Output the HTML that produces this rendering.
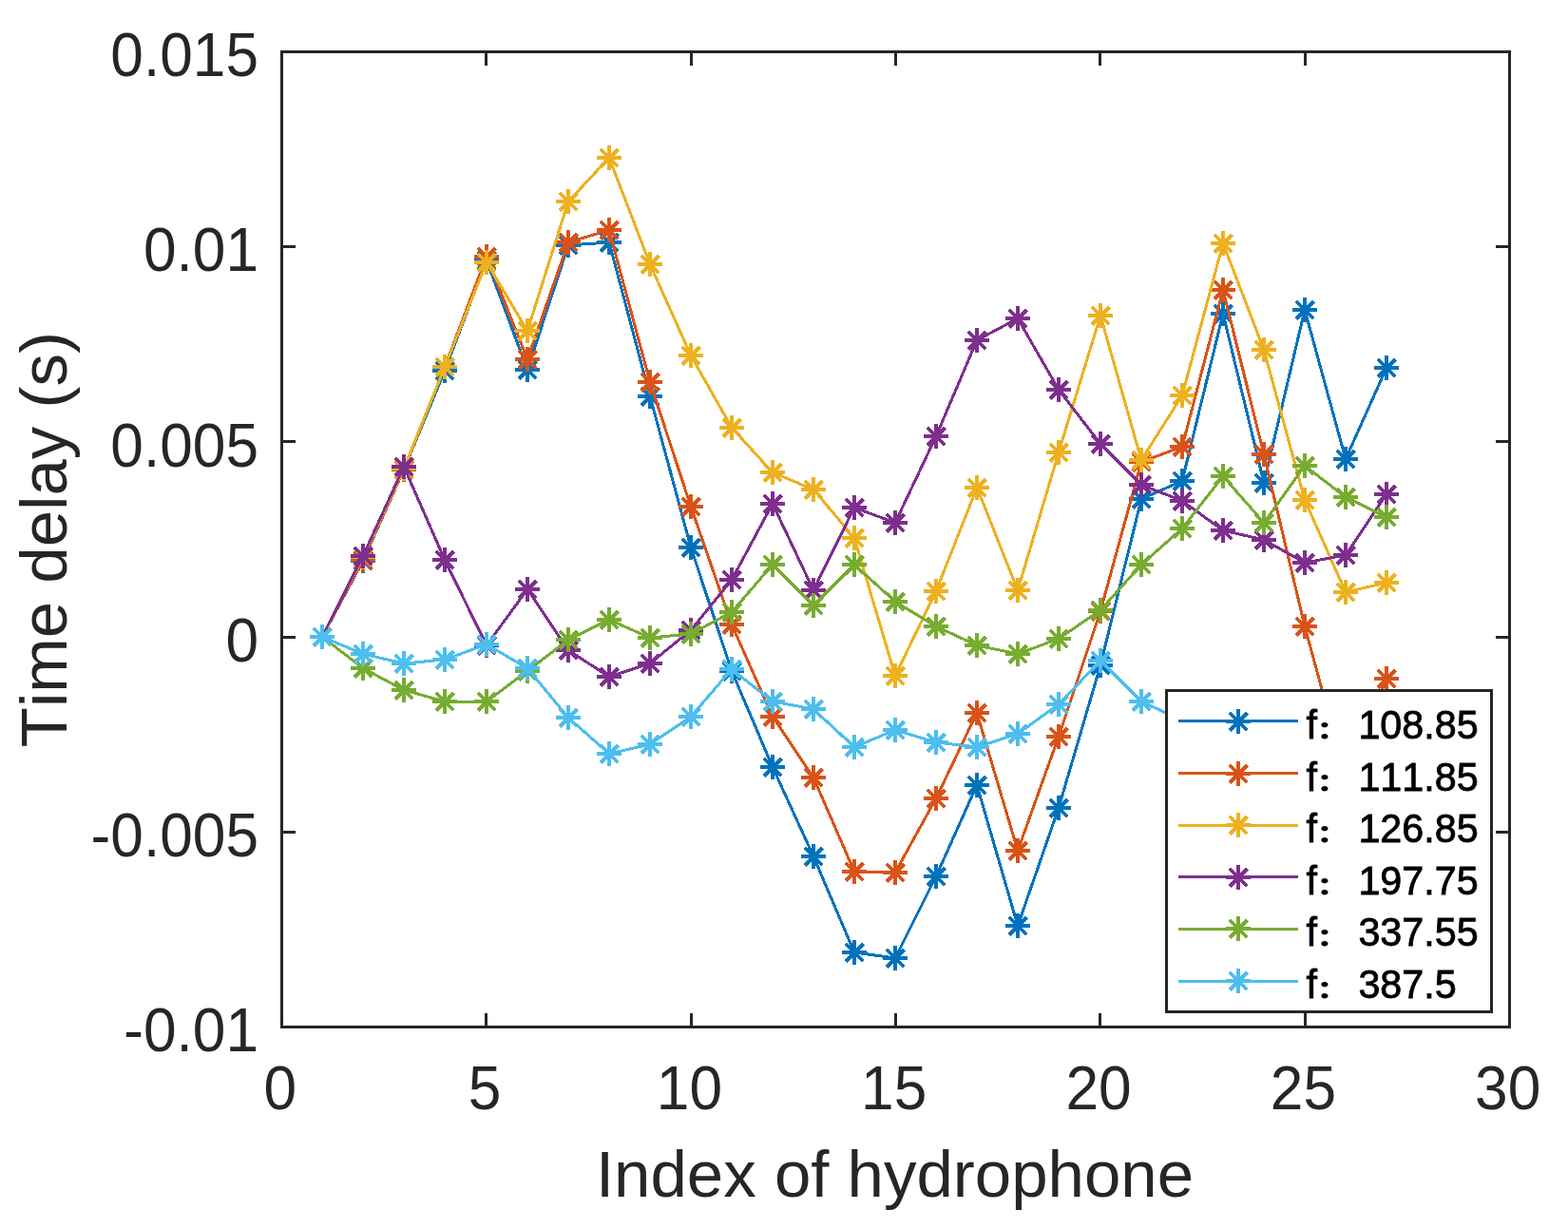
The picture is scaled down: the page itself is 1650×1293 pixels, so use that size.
<!DOCTYPE html><html><head><meta charset="utf-8"><title>Time delay</title><style>html,body{margin:0;padding:0;background:#fff;}svg{display:block;}text{font-kerning:none;}.t{font-family:"Liberation Sans",sans-serif;fill:#262626;}.lg{font-family:"Liberation Sans","Noto Sans CJK SC",sans-serif;fill:#000;stroke:#000;stroke-width:0.85px;}.cl{font-family:"Liberation Sans","Noto Sans CJK SC",sans-serif;font-weight:900;stroke-width:0;}</style></head><body>
<svg width="1650" height="1293" viewBox="0 0 1650 1293">
<rect width="1650" height="1293" fill="#fff"/>
<g fill="none" stroke-linejoin="miter" shape-rendering="crispEdges">
<path d="M339.0 670.0 L382.0 590.0 L425.0 494.0 L468.0 390.0 L512.0 274.0 L555.0 389.0 L598.0 258.0 L641.0 255.0 L684.0 417.0 L727.0 576.0 L770.0 706.0 L813.0 807.0 L856.0 901.0 L899.0 1002.0 L942.0 1008.0 L985.0 922.0 L1028.0 826.0 L1071.0 974.0 L1114.0 850.0 L1158.0 700.0 L1201.0 525.0 L1244.0 506.0 L1287.0 330.0 L1330.0 508.0 L1373.0 326.0 L1416.0 483.0 L1459.0 387.0" stroke="#0072BD" stroke-width="3.0"/>
<path d="M326.0 670.0H352.0M339.0 657.0V683.0M369.0 590.0H395.0M382.0 577.0V603.0M412.0 494.0H438.0M425.0 481.0V507.0M455.0 390.0H481.0M468.0 377.0V403.0M499.0 274.0H525.0M512.0 261.0V287.0M542.0 389.0H568.0M555.0 376.0V402.0M585.0 258.0H611.0M598.0 245.0V271.0M628.0 255.0H654.0M641.0 242.0V268.0M671.0 417.0H697.0M684.0 404.0V430.0M714.0 576.0H740.0M727.0 563.0V589.0M757.0 706.0H783.0M770.0 693.0V719.0M800.0 807.0H826.0M813.0 794.0V820.0M843.0 901.0H869.0M856.0 888.0V914.0M886.0 1002.0H912.0M899.0 989.0V1015.0M929.0 1008.0H955.0M942.0 995.0V1021.0M972.0 922.0H998.0M985.0 909.0V935.0M1015.0 826.0H1041.0M1028.0 813.0V839.0M1058.0 974.0H1084.0M1071.0 961.0V987.0M1101.0 850.0H1127.0M1114.0 837.0V863.0M1145.0 700.0H1171.0M1158.0 687.0V713.0M1188.0 525.0H1214.0M1201.0 512.0V538.0M1231.0 506.0H1257.0M1244.0 493.0V519.0M1274.0 330.0H1300.0M1287.0 317.0V343.0M1317.0 508.0H1343.0M1330.0 495.0V521.0M1360.0 326.0H1386.0M1373.0 313.0V339.0M1403.0 483.0H1429.0M1416.0 470.0V496.0M1446.0 387.0H1472.0M1459.0 374.0V400.0" stroke="#0072BD" stroke-width="4.0"/><path d="M329.90 660.90L348.50 679.50M329.90 679.50L348.50 660.90M372.90 580.90L391.50 599.50M372.90 599.50L391.50 580.90M415.90 484.90L434.50 503.50M415.90 503.50L434.50 484.90M458.90 380.90L477.50 399.50M458.90 399.50L477.50 380.90M502.90 264.90L521.50 283.50M502.90 283.50L521.50 264.90M545.90 379.90L564.50 398.50M545.90 398.50L564.50 379.90M588.90 248.90L607.50 267.50M588.90 267.50L607.50 248.90M631.90 245.90L650.50 264.50M631.90 264.50L650.50 245.90M674.90 407.90L693.50 426.50M674.90 426.50L693.50 407.90M717.90 566.90L736.50 585.50M717.90 585.50L736.50 566.90M760.90 696.90L779.50 715.50M760.90 715.50L779.50 696.90M803.90 797.90L822.50 816.50M803.90 816.50L822.50 797.90M846.90 891.90L865.50 910.50M846.90 910.50L865.50 891.90M889.90 992.90L908.50 1011.50M889.90 1011.50L908.50 992.90M932.90 998.90L951.50 1017.50M932.90 1017.50L951.50 998.90M975.90 912.90L994.50 931.50M975.90 931.50L994.50 912.90M1018.90 816.90L1037.50 835.50M1018.90 835.50L1037.50 816.90M1061.90 964.90L1080.50 983.50M1061.90 983.50L1080.50 964.90M1104.90 840.90L1123.50 859.50M1104.90 859.50L1123.50 840.90M1148.90 690.90L1167.50 709.50M1148.90 709.50L1167.50 690.90M1191.90 515.90L1210.50 534.50M1191.90 534.50L1210.50 515.90M1234.90 496.90L1253.50 515.50M1234.90 515.50L1253.50 496.90M1277.90 320.90L1296.50 339.50M1277.90 339.50L1296.50 320.90M1320.90 498.90L1339.50 517.50M1320.90 517.50L1339.50 498.90M1363.90 316.90L1382.50 335.50M1363.90 335.50L1382.50 316.90M1406.90 473.90L1425.50 492.50M1406.90 492.50L1425.50 473.90M1449.90 377.90L1468.50 396.50M1449.90 396.50L1468.50 377.90" stroke="#0072BD" stroke-width="4.0"/>
<path d="M339.0 670.0 L382.0 589.0 L425.0 494.0 L468.0 386.0 L512.0 270.0 L555.0 378.0 L598.0 255.0 L641.0 242.0 L684.0 402.0 L727.0 533.0 L770.0 657.0 L813.0 754.0 L856.0 818.0 L899.0 917.0 L942.0 918.0 L985.0 840.0 L1028.0 750.0 L1071.0 895.0 L1114.0 775.0 L1158.0 643.0 L1201.0 486.0 L1244.0 470.0 L1287.0 305.0 L1330.0 478.0 L1373.0 659.0 L1416.0 817.0 L1459.0 714.0" stroke="#D95319" stroke-width="3.0"/>
<path d="M326.0 670.0H352.0M339.0 657.0V683.0M369.0 589.0H395.0M382.0 576.0V602.0M412.0 494.0H438.0M425.0 481.0V507.0M455.0 386.0H481.0M468.0 373.0V399.0M499.0 270.0H525.0M512.0 257.0V283.0M542.0 378.0H568.0M555.0 365.0V391.0M585.0 255.0H611.0M598.0 242.0V268.0M628.0 242.0H654.0M641.0 229.0V255.0M671.0 402.0H697.0M684.0 389.0V415.0M714.0 533.0H740.0M727.0 520.0V546.0M757.0 657.0H783.0M770.0 644.0V670.0M800.0 754.0H826.0M813.0 741.0V767.0M843.0 818.0H869.0M856.0 805.0V831.0M886.0 917.0H912.0M899.0 904.0V930.0M929.0 918.0H955.0M942.0 905.0V931.0M972.0 840.0H998.0M985.0 827.0V853.0M1015.0 750.0H1041.0M1028.0 737.0V763.0M1058.0 895.0H1084.0M1071.0 882.0V908.0M1101.0 775.0H1127.0M1114.0 762.0V788.0M1145.0 643.0H1171.0M1158.0 630.0V656.0M1188.0 486.0H1214.0M1201.0 473.0V499.0M1231.0 470.0H1257.0M1244.0 457.0V483.0M1274.0 305.0H1300.0M1287.0 292.0V318.0M1317.0 478.0H1343.0M1330.0 465.0V491.0M1360.0 659.0H1386.0M1373.0 646.0V672.0M1403.0 817.0H1429.0M1416.0 804.0V830.0M1446.0 714.0H1472.0M1459.0 701.0V727.0" stroke="#D95319" stroke-width="4.0"/><path d="M329.90 660.90L348.50 679.50M329.90 679.50L348.50 660.90M372.90 579.90L391.50 598.50M372.90 598.50L391.50 579.90M415.90 484.90L434.50 503.50M415.90 503.50L434.50 484.90M458.90 376.90L477.50 395.50M458.90 395.50L477.50 376.90M502.90 260.90L521.50 279.50M502.90 279.50L521.50 260.90M545.90 368.90L564.50 387.50M545.90 387.50L564.50 368.90M588.90 245.90L607.50 264.50M588.90 264.50L607.50 245.90M631.90 232.90L650.50 251.50M631.90 251.50L650.50 232.90M674.90 392.90L693.50 411.50M674.90 411.50L693.50 392.90M717.90 523.90L736.50 542.50M717.90 542.50L736.50 523.90M760.90 647.90L779.50 666.50M760.90 666.50L779.50 647.90M803.90 744.90L822.50 763.50M803.90 763.50L822.50 744.90M846.90 808.90L865.50 827.50M846.90 827.50L865.50 808.90M889.90 907.90L908.50 926.50M889.90 926.50L908.50 907.90M932.90 908.90L951.50 927.50M932.90 927.50L951.50 908.90M975.90 830.90L994.50 849.50M975.90 849.50L994.50 830.90M1018.90 740.90L1037.50 759.50M1018.90 759.50L1037.50 740.90M1061.90 885.90L1080.50 904.50M1061.90 904.50L1080.50 885.90M1104.90 765.90L1123.50 784.50M1104.90 784.50L1123.50 765.90M1148.90 633.90L1167.50 652.50M1148.90 652.50L1167.50 633.90M1191.90 476.90L1210.50 495.50M1191.90 495.50L1210.50 476.90M1234.90 460.90L1253.50 479.50M1234.90 479.50L1253.50 460.90M1277.90 295.90L1296.50 314.50M1277.90 314.50L1296.50 295.90M1320.90 468.90L1339.50 487.50M1320.90 487.50L1339.50 468.90M1363.90 649.90L1382.50 668.50M1363.90 668.50L1382.50 649.90M1406.90 807.90L1425.50 826.50M1406.90 826.50L1425.50 807.90M1449.90 704.90L1468.50 723.50M1449.90 723.50L1468.50 704.90" stroke="#D95319" stroke-width="4.0"/>
<path d="M339.0 670.0 L382.0 586.0 L425.0 493.0 L468.0 386.0 L512.0 276.0 L555.0 348.0 L598.0 212.0 L641.0 166.0 L684.0 278.0 L727.0 374.0 L770.0 450.0 L813.0 497.0 L856.0 515.0 L899.0 566.0 L942.0 711.0 L985.0 622.0 L1028.0 513.0 L1071.0 621.0 L1114.0 476.0 L1158.0 332.0 L1201.0 484.0 L1244.0 416.0 L1287.0 256.0 L1330.0 368.0 L1373.0 526.0 L1416.0 623.0 L1459.0 613.0" stroke="#EDB120" stroke-width="3.0"/>
<path d="M326.0 670.0H352.0M339.0 657.0V683.0M369.0 586.0H395.0M382.0 573.0V599.0M412.0 493.0H438.0M425.0 480.0V506.0M455.0 386.0H481.0M468.0 373.0V399.0M499.0 276.0H525.0M512.0 263.0V289.0M542.0 348.0H568.0M555.0 335.0V361.0M585.0 212.0H611.0M598.0 199.0V225.0M628.0 166.0H654.0M641.0 153.0V179.0M671.0 278.0H697.0M684.0 265.0V291.0M714.0 374.0H740.0M727.0 361.0V387.0M757.0 450.0H783.0M770.0 437.0V463.0M800.0 497.0H826.0M813.0 484.0V510.0M843.0 515.0H869.0M856.0 502.0V528.0M886.0 566.0H912.0M899.0 553.0V579.0M929.0 711.0H955.0M942.0 698.0V724.0M972.0 622.0H998.0M985.0 609.0V635.0M1015.0 513.0H1041.0M1028.0 500.0V526.0M1058.0 621.0H1084.0M1071.0 608.0V634.0M1101.0 476.0H1127.0M1114.0 463.0V489.0M1145.0 332.0H1171.0M1158.0 319.0V345.0M1188.0 484.0H1214.0M1201.0 471.0V497.0M1231.0 416.0H1257.0M1244.0 403.0V429.0M1274.0 256.0H1300.0M1287.0 243.0V269.0M1317.0 368.0H1343.0M1330.0 355.0V381.0M1360.0 526.0H1386.0M1373.0 513.0V539.0M1403.0 623.0H1429.0M1416.0 610.0V636.0M1446.0 613.0H1472.0M1459.0 600.0V626.0" stroke="#EDB120" stroke-width="4.0"/><path d="M329.90 660.90L348.50 679.50M329.90 679.50L348.50 660.90M372.90 576.90L391.50 595.50M372.90 595.50L391.50 576.90M415.90 483.90L434.50 502.50M415.90 502.50L434.50 483.90M458.90 376.90L477.50 395.50M458.90 395.50L477.50 376.90M502.90 266.90L521.50 285.50M502.90 285.50L521.50 266.90M545.90 338.90L564.50 357.50M545.90 357.50L564.50 338.90M588.90 202.90L607.50 221.50M588.90 221.50L607.50 202.90M631.90 156.90L650.50 175.50M631.90 175.50L650.50 156.90M674.90 268.90L693.50 287.50M674.90 287.50L693.50 268.90M717.90 364.90L736.50 383.50M717.90 383.50L736.50 364.90M760.90 440.90L779.50 459.50M760.90 459.50L779.50 440.90M803.90 487.90L822.50 506.50M803.90 506.50L822.50 487.90M846.90 505.90L865.50 524.50M846.90 524.50L865.50 505.90M889.90 556.90L908.50 575.50M889.90 575.50L908.50 556.90M932.90 701.90L951.50 720.50M932.90 720.50L951.50 701.90M975.90 612.90L994.50 631.50M975.90 631.50L994.50 612.90M1018.90 503.90L1037.50 522.50M1018.90 522.50L1037.50 503.90M1061.90 611.90L1080.50 630.50M1061.90 630.50L1080.50 611.90M1104.90 466.90L1123.50 485.50M1104.90 485.50L1123.50 466.90M1148.90 322.90L1167.50 341.50M1148.90 341.50L1167.50 322.90M1191.90 474.90L1210.50 493.50M1191.90 493.50L1210.50 474.90M1234.90 406.90L1253.50 425.50M1234.90 425.50L1253.50 406.90M1277.90 246.90L1296.50 265.50M1277.90 265.50L1296.50 246.90M1320.90 358.90L1339.50 377.50M1320.90 377.50L1339.50 358.90M1363.90 516.90L1382.50 535.50M1363.90 535.50L1382.50 516.90M1406.90 613.90L1425.50 632.50M1406.90 632.50L1425.50 613.90M1449.90 603.90L1468.50 622.50M1449.90 622.50L1468.50 603.90" stroke="#EDB120" stroke-width="4.0"/>
<path d="M339.0 670.0 L382.0 585.0 L425.0 491.0 L468.0 589.0 L512.0 679.0 L555.0 620.0 L598.0 684.0 L641.0 712.0 L684.0 698.0 L727.0 663.0 L770.0 610.0 L813.0 530.0 L856.0 621.0 L899.0 534.0 L942.0 550.0 L985.0 459.0 L1028.0 358.0 L1071.0 335.0 L1114.0 410.0 L1158.0 467.0 L1201.0 510.0 L1244.0 527.0 L1287.0 558.0 L1330.0 568.0 L1373.0 592.0 L1416.0 584.0 L1459.0 520.0" stroke="#7E2F8E" stroke-width="3.0"/>
<path d="M326.0 670.0H352.0M339.0 657.0V683.0M369.0 585.0H395.0M382.0 572.0V598.0M412.0 491.0H438.0M425.0 478.0V504.0M455.0 589.0H481.0M468.0 576.0V602.0M499.0 679.0H525.0M512.0 666.0V692.0M542.0 620.0H568.0M555.0 607.0V633.0M585.0 684.0H611.0M598.0 671.0V697.0M628.0 712.0H654.0M641.0 699.0V725.0M671.0 698.0H697.0M684.0 685.0V711.0M714.0 663.0H740.0M727.0 650.0V676.0M757.0 610.0H783.0M770.0 597.0V623.0M800.0 530.0H826.0M813.0 517.0V543.0M843.0 621.0H869.0M856.0 608.0V634.0M886.0 534.0H912.0M899.0 521.0V547.0M929.0 550.0H955.0M942.0 537.0V563.0M972.0 459.0H998.0M985.0 446.0V472.0M1015.0 358.0H1041.0M1028.0 345.0V371.0M1058.0 335.0H1084.0M1071.0 322.0V348.0M1101.0 410.0H1127.0M1114.0 397.0V423.0M1145.0 467.0H1171.0M1158.0 454.0V480.0M1188.0 510.0H1214.0M1201.0 497.0V523.0M1231.0 527.0H1257.0M1244.0 514.0V540.0M1274.0 558.0H1300.0M1287.0 545.0V571.0M1317.0 568.0H1343.0M1330.0 555.0V581.0M1360.0 592.0H1386.0M1373.0 579.0V605.0M1403.0 584.0H1429.0M1416.0 571.0V597.0M1446.0 520.0H1472.0M1459.0 507.0V533.0" stroke="#7E2F8E" stroke-width="4.0"/><path d="M329.90 660.90L348.50 679.50M329.90 679.50L348.50 660.90M372.90 575.90L391.50 594.50M372.90 594.50L391.50 575.90M415.90 481.90L434.50 500.50M415.90 500.50L434.50 481.90M458.90 579.90L477.50 598.50M458.90 598.50L477.50 579.90M502.90 669.90L521.50 688.50M502.90 688.50L521.50 669.90M545.90 610.90L564.50 629.50M545.90 629.50L564.50 610.90M588.90 674.90L607.50 693.50M588.90 693.50L607.50 674.90M631.90 702.90L650.50 721.50M631.90 721.50L650.50 702.90M674.90 688.90L693.50 707.50M674.90 707.50L693.50 688.90M717.90 653.90L736.50 672.50M717.90 672.50L736.50 653.90M760.90 600.90L779.50 619.50M760.90 619.50L779.50 600.90M803.90 520.90L822.50 539.50M803.90 539.50L822.50 520.90M846.90 611.90L865.50 630.50M846.90 630.50L865.50 611.90M889.90 524.90L908.50 543.50M889.90 543.50L908.50 524.90M932.90 540.90L951.50 559.50M932.90 559.50L951.50 540.90M975.90 449.90L994.50 468.50M975.90 468.50L994.50 449.90M1018.90 348.90L1037.50 367.50M1018.90 367.50L1037.50 348.90M1061.90 325.90L1080.50 344.50M1061.90 344.50L1080.50 325.90M1104.90 400.90L1123.50 419.50M1104.90 419.50L1123.50 400.90M1148.90 457.90L1167.50 476.50M1148.90 476.50L1167.50 457.90M1191.90 500.90L1210.50 519.50M1191.90 519.50L1210.50 500.90M1234.90 517.90L1253.50 536.50M1234.90 536.50L1253.50 517.90M1277.90 548.90L1296.50 567.50M1277.90 567.50L1296.50 548.90M1320.90 558.90L1339.50 577.50M1320.90 577.50L1339.50 558.90M1363.90 582.90L1382.50 601.50M1363.90 601.50L1382.50 582.90M1406.90 574.90L1425.50 593.50M1406.90 593.50L1425.50 574.90M1449.90 510.90L1468.50 529.50M1449.90 529.50L1468.50 510.90" stroke="#7E2F8E" stroke-width="4.0"/>
<path d="M339.0 670.0 L382.0 703.0 L425.0 726.0 L468.0 738.0 L512.0 738.0 L555.0 706.0 L598.0 673.0 L641.0 652.0 L684.0 671.0 L727.0 667.0 L770.0 644.0 L813.0 594.0 L856.0 637.0 L899.0 594.0 L942.0 633.0 L985.0 659.0 L1028.0 679.0 L1071.0 688.0 L1114.0 672.0 L1158.0 642.0 L1201.0 594.0 L1244.0 556.0 L1287.0 501.0 L1330.0 550.0 L1373.0 490.0 L1416.0 523.0 L1459.0 544.0" stroke="#77AC30" stroke-width="3.0"/>
<path d="M326.0 670.0H352.0M339.0 657.0V683.0M369.0 703.0H395.0M382.0 690.0V716.0M412.0 726.0H438.0M425.0 713.0V739.0M455.0 738.0H481.0M468.0 725.0V751.0M499.0 738.0H525.0M512.0 725.0V751.0M542.0 706.0H568.0M555.0 693.0V719.0M585.0 673.0H611.0M598.0 660.0V686.0M628.0 652.0H654.0M641.0 639.0V665.0M671.0 671.0H697.0M684.0 658.0V684.0M714.0 667.0H740.0M727.0 654.0V680.0M757.0 644.0H783.0M770.0 631.0V657.0M800.0 594.0H826.0M813.0 581.0V607.0M843.0 637.0H869.0M856.0 624.0V650.0M886.0 594.0H912.0M899.0 581.0V607.0M929.0 633.0H955.0M942.0 620.0V646.0M972.0 659.0H998.0M985.0 646.0V672.0M1015.0 679.0H1041.0M1028.0 666.0V692.0M1058.0 688.0H1084.0M1071.0 675.0V701.0M1101.0 672.0H1127.0M1114.0 659.0V685.0M1145.0 642.0H1171.0M1158.0 629.0V655.0M1188.0 594.0H1214.0M1201.0 581.0V607.0M1231.0 556.0H1257.0M1244.0 543.0V569.0M1274.0 501.0H1300.0M1287.0 488.0V514.0M1317.0 550.0H1343.0M1330.0 537.0V563.0M1360.0 490.0H1386.0M1373.0 477.0V503.0M1403.0 523.0H1429.0M1416.0 510.0V536.0M1446.0 544.0H1472.0M1459.0 531.0V557.0" stroke="#77AC30" stroke-width="4.0"/><path d="M329.90 660.90L348.50 679.50M329.90 679.50L348.50 660.90M372.90 693.90L391.50 712.50M372.90 712.50L391.50 693.90M415.90 716.90L434.50 735.50M415.90 735.50L434.50 716.90M458.90 728.90L477.50 747.50M458.90 747.50L477.50 728.90M502.90 728.90L521.50 747.50M502.90 747.50L521.50 728.90M545.90 696.90L564.50 715.50M545.90 715.50L564.50 696.90M588.90 663.90L607.50 682.50M588.90 682.50L607.50 663.90M631.90 642.90L650.50 661.50M631.90 661.50L650.50 642.90M674.90 661.90L693.50 680.50M674.90 680.50L693.50 661.90M717.90 657.90L736.50 676.50M717.90 676.50L736.50 657.90M760.90 634.90L779.50 653.50M760.90 653.50L779.50 634.90M803.90 584.90L822.50 603.50M803.90 603.50L822.50 584.90M846.90 627.90L865.50 646.50M846.90 646.50L865.50 627.90M889.90 584.90L908.50 603.50M889.90 603.50L908.50 584.90M932.90 623.90L951.50 642.50M932.90 642.50L951.50 623.90M975.90 649.90L994.50 668.50M975.90 668.50L994.50 649.90M1018.90 669.90L1037.50 688.50M1018.90 688.50L1037.50 669.90M1061.90 678.90L1080.50 697.50M1061.90 697.50L1080.50 678.90M1104.90 662.90L1123.50 681.50M1104.90 681.50L1123.50 662.90M1148.90 632.90L1167.50 651.50M1148.90 651.50L1167.50 632.90M1191.90 584.90L1210.50 603.50M1191.90 603.50L1210.50 584.90M1234.90 546.90L1253.50 565.50M1234.90 565.50L1253.50 546.90M1277.90 491.90L1296.50 510.50M1277.90 510.50L1296.50 491.90M1320.90 540.90L1339.50 559.50M1320.90 559.50L1339.50 540.90M1363.90 480.90L1382.50 499.50M1363.90 499.50L1382.50 480.90M1406.90 513.90L1425.50 532.50M1406.90 532.50L1425.50 513.90M1449.90 534.90L1468.50 553.50M1449.90 553.50L1468.50 534.90" stroke="#77AC30" stroke-width="4.0"/>
<path d="M339.0 670.0 L382.0 688.0 L425.0 698.0 L468.0 694.0 L512.0 678.0 L555.0 703.0 L598.0 755.0 L641.0 793.0 L684.0 783.0 L727.0 754.0 L770.0 704.0 L813.0 738.0 L856.0 746.0 L899.0 786.0 L942.0 768.0 L985.0 781.0 L1028.0 786.0 L1071.0 772.0 L1114.0 741.0 L1158.0 695.0 L1201.0 738.0 L1244.0 758.0 L1287.0 765.0 L1330.0 760.0 L1373.0 770.0 L1416.0 775.0 L1459.0 765.0" stroke="#4DBEEE" stroke-width="3.0"/>
<path d="M326.0 670.0H352.0M339.0 657.0V683.0M369.0 688.0H395.0M382.0 675.0V701.0M412.0 698.0H438.0M425.0 685.0V711.0M455.0 694.0H481.0M468.0 681.0V707.0M499.0 678.0H525.0M512.0 665.0V691.0M542.0 703.0H568.0M555.0 690.0V716.0M585.0 755.0H611.0M598.0 742.0V768.0M628.0 793.0H654.0M641.0 780.0V806.0M671.0 783.0H697.0M684.0 770.0V796.0M714.0 754.0H740.0M727.0 741.0V767.0M757.0 704.0H783.0M770.0 691.0V717.0M800.0 738.0H826.0M813.0 725.0V751.0M843.0 746.0H869.0M856.0 733.0V759.0M886.0 786.0H912.0M899.0 773.0V799.0M929.0 768.0H955.0M942.0 755.0V781.0M972.0 781.0H998.0M985.0 768.0V794.0M1015.0 786.0H1041.0M1028.0 773.0V799.0M1058.0 772.0H1084.0M1071.0 759.0V785.0M1101.0 741.0H1127.0M1114.0 728.0V754.0M1145.0 695.0H1171.0M1158.0 682.0V708.0M1188.0 738.0H1214.0M1201.0 725.0V751.0M1231.0 758.0H1257.0M1244.0 745.0V771.0M1274.0 765.0H1300.0M1287.0 752.0V778.0M1317.0 760.0H1343.0M1330.0 747.0V773.0M1360.0 770.0H1386.0M1373.0 757.0V783.0M1403.0 775.0H1429.0M1416.0 762.0V788.0M1446.0 765.0H1472.0M1459.0 752.0V778.0" stroke="#4DBEEE" stroke-width="4.0"/><path d="M329.90 660.90L348.50 679.50M329.90 679.50L348.50 660.90M372.90 678.90L391.50 697.50M372.90 697.50L391.50 678.90M415.90 688.90L434.50 707.50M415.90 707.50L434.50 688.90M458.90 684.90L477.50 703.50M458.90 703.50L477.50 684.90M502.90 668.90L521.50 687.50M502.90 687.50L521.50 668.90M545.90 693.90L564.50 712.50M545.90 712.50L564.50 693.90M588.90 745.90L607.50 764.50M588.90 764.50L607.50 745.90M631.90 783.90L650.50 802.50M631.90 802.50L650.50 783.90M674.90 773.90L693.50 792.50M674.90 792.50L693.50 773.90M717.90 744.90L736.50 763.50M717.90 763.50L736.50 744.90M760.90 694.90L779.50 713.50M760.90 713.50L779.50 694.90M803.90 728.90L822.50 747.50M803.90 747.50L822.50 728.90M846.90 736.90L865.50 755.50M846.90 755.50L865.50 736.90M889.90 776.90L908.50 795.50M889.90 795.50L908.50 776.90M932.90 758.90L951.50 777.50M932.90 777.50L951.50 758.90M975.90 771.90L994.50 790.50M975.90 790.50L994.50 771.90M1018.90 776.90L1037.50 795.50M1018.90 795.50L1037.50 776.90M1061.90 762.90L1080.50 781.50M1061.90 781.50L1080.50 762.90M1104.90 731.90L1123.50 750.50M1104.90 750.50L1123.50 731.90M1148.90 685.90L1167.50 704.50M1148.90 704.50L1167.50 685.90M1191.90 728.90L1210.50 747.50M1191.90 747.50L1210.50 728.90M1234.90 748.90L1253.50 767.50M1234.90 767.50L1253.50 748.90M1277.90 755.90L1296.50 774.50M1277.90 774.50L1296.50 755.90M1320.90 750.90L1339.50 769.50M1320.90 769.50L1339.50 750.90M1363.90 760.90L1382.50 779.50M1363.90 779.50L1382.50 760.90M1406.90 765.90L1425.50 784.50M1406.90 784.50L1425.50 765.90M1449.90 755.90L1468.50 774.50M1449.90 774.50L1468.50 755.90" stroke="#4DBEEE" stroke-width="4.0"/>
</g>
<path d="M296.5 1080.5V1066.0M296.5 54.5V69.0M511.8 1080.5V1066.0M511.8 54.5V69.0M727.2 1080.5V1066.0M727.2 54.5V69.0M942.5 1080.5V1066.0M942.5 54.5V69.0M1157.8 1080.5V1066.0M1157.8 54.5V69.0M1373.2 1080.5V1066.0M1373.2 54.5V69.0M1588.5 1080.5V1066.0M1588.5 54.5V69.0M296.5 54.5H311.0M1588.5 54.5H1574.0M296.5 259.7H311.0M1588.5 259.7H1574.0M296.5 464.9H311.0M1588.5 464.9H1574.0M296.5 670.1H311.0M1588.5 670.1H1574.0M296.5 875.3H311.0M1588.5 875.3H1574.0M296.5 1080.5H311.0M1588.5 1080.5H1574.0" stroke="#262626" stroke-width="3" fill="none" shape-rendering="crispEdges"/>
<rect x="296.5" y="54.5" width="1292.0" height="1026.0" fill="none" stroke="#262626" stroke-width="3" shape-rendering="crispEdges"/>
<text class="t" transform="translate(294.7 1166.5) scale(0.95 1)" font-size="65.5" text-anchor="middle">0</text>
<text class="t" transform="translate(510.0 1166.5) scale(0.95 1)" font-size="65.5" text-anchor="middle">5</text>
<text class="t" transform="translate(725.4 1166.5) scale(0.95 1)" font-size="65.5" text-anchor="middle">10</text>
<text class="t" transform="translate(940.7 1166.5) scale(0.95 1)" font-size="65.5" text-anchor="middle">15</text>
<text class="t" transform="translate(1156.0 1166.5) scale(0.95 1)" font-size="65.5" text-anchor="middle">20</text>
<text class="t" transform="translate(1371.4 1166.5) scale(0.95 1)" font-size="65.5" text-anchor="middle">25</text>
<text class="t" transform="translate(1586.7 1166.5) scale(0.95 1)" font-size="65.5" text-anchor="middle">30</text>
<text class="t" transform="translate(272.0 80.1) scale(0.95 1)" font-size="65.5" text-anchor="end">0.015</text>
<text class="t" transform="translate(272.0 285.3) scale(0.95 1)" font-size="65.5" text-anchor="end">0.01</text>
<text class="t" transform="translate(272.0 490.5) scale(0.95 1)" font-size="65.5" text-anchor="end">0.005</text>
<text class="t" transform="translate(272.0 695.7) scale(0.95 1)" font-size="65.5" text-anchor="end">0</text>
<text class="t" transform="translate(272.0 900.9) scale(0.95 1)" font-size="65.5" text-anchor="end">-0.005</text>
<text class="t" transform="translate(272.0 1106.1) scale(0.95 1)" font-size="65.5" text-anchor="end">-0.01</text>
<text class="t" x="941.5" y="1259" font-size="69" text-anchor="middle">Index of hydrophone</text>
<text class="t" transform="translate(70 567.6) rotate(-90)" font-size="69" text-anchor="middle">Time delay (s)</text>
<rect x="1227.5" y="726.5" width="342" height="338" fill="#fff" stroke="#262626" stroke-width="3" shape-rendering="crispEdges"/>
<g shape-rendering="crispEdges" fill="none" stroke="#0072BD"><path d="M1240 758.5H1366" stroke-width="3"/><path d="M1290.0 759.0H1316.0M1303.0 746.0V772.0" stroke-width="4.0"/><path d="M1293.90 749.90L1312.50 768.50M1293.90 768.50L1312.50 749.90" stroke-width="4.0"/></g>
<text class="lg" transform="translate(1374.6 776.8) scale(0.96 1)" font-size="43">f</text><text class="lg cl" transform="translate(1385.6 776.9) scale(1.25 0.92)" font-size="27">：</text><text class="lg" transform="translate(1374.6 776.8) scale(0.96 1)" font-size="43" x="57.1">108.85</text>
<g shape-rendering="crispEdges" fill="none" stroke="#D95319"><path d="M1240 813.3H1366" stroke-width="3"/><path d="M1290.0 814.0H1316.0M1303.0 801.0V827.0" stroke-width="4.0"/><path d="M1293.90 804.90L1312.50 823.50M1293.90 823.50L1312.50 804.90" stroke-width="4.0"/></g>
<text class="lg" transform="translate(1374.6 831.8) scale(0.96 1)" font-size="43">f</text><text class="lg cl" transform="translate(1385.6 831.9) scale(1.25 0.92)" font-size="27">：</text><text class="lg" transform="translate(1374.6 831.8) scale(0.96 1)" font-size="43" x="57.1">111.85</text>
<g shape-rendering="crispEdges" fill="none" stroke="#EDB120"><path d="M1240 868.1H1366" stroke-width="3"/><path d="M1290.0 868.0H1316.0M1303.0 855.0V881.0" stroke-width="4.0"/><path d="M1293.90 858.90L1312.50 877.50M1293.90 877.50L1312.50 858.90" stroke-width="4.0"/></g>
<text class="lg" transform="translate(1374.6 885.8) scale(0.96 1)" font-size="43">f</text><text class="lg cl" transform="translate(1385.6 885.9) scale(1.25 0.92)" font-size="27">：</text><text class="lg" transform="translate(1374.6 885.8) scale(0.96 1)" font-size="43" x="57.1">126.85</text>
<g shape-rendering="crispEdges" fill="none" stroke="#7E2F8E"><path d="M1240 922.9H1366" stroke-width="3"/><path d="M1290.0 923.0H1316.0M1303.0 910.0V936.0" stroke-width="4.0"/><path d="M1293.90 913.90L1312.50 932.50M1293.90 932.50L1312.50 913.90" stroke-width="4.0"/></g>
<text class="lg" transform="translate(1374.6 940.8) scale(0.96 1)" font-size="43">f</text><text class="lg cl" transform="translate(1385.6 940.9) scale(1.25 0.92)" font-size="27">：</text><text class="lg" transform="translate(1374.6 940.8) scale(0.96 1)" font-size="43" x="57.1">197.75</text>
<g shape-rendering="crispEdges" fill="none" stroke="#77AC30"><path d="M1240 977.7H1366" stroke-width="3"/><path d="M1290.0 977.0H1316.0M1303.0 964.0V990.0" stroke-width="4.0"/><path d="M1293.90 967.90L1312.50 986.50M1293.90 986.50L1312.50 967.90" stroke-width="4.0"/></g>
<text class="lg" transform="translate(1374.6 994.8) scale(0.96 1)" font-size="43">f</text><text class="lg cl" transform="translate(1385.6 994.9) scale(1.25 0.92)" font-size="27">：</text><text class="lg" transform="translate(1374.6 994.8) scale(0.96 1)" font-size="43" x="57.1">337.55</text>
<g shape-rendering="crispEdges" fill="none" stroke="#4DBEEE"><path d="M1240 1032.5H1366" stroke-width="3"/><path d="M1290.0 1032.0H1316.0M1303.0 1019.0V1045.0" stroke-width="4.0"/><path d="M1293.90 1022.90L1312.50 1041.50M1293.90 1041.50L1312.50 1022.90" stroke-width="4.0"/></g>
<text class="lg" transform="translate(1374.6 1049.8) scale(0.96 1)" font-size="43">f</text><text class="lg cl" transform="translate(1385.6 1049.9) scale(1.25 0.92)" font-size="27">：</text><text class="lg" transform="translate(1374.6 1049.8) scale(0.96 1)" font-size="43" x="57.1">387.5</text>
</svg></body></html>
